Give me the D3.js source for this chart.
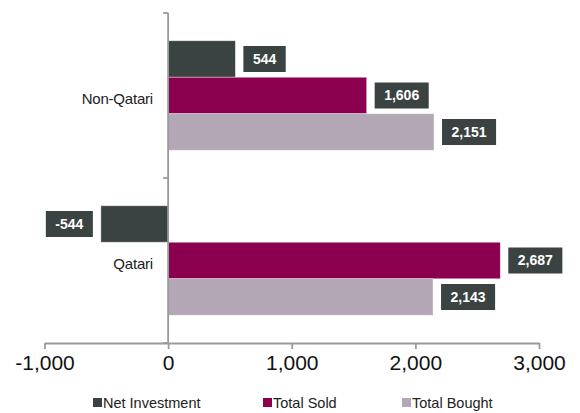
<!DOCTYPE html>
<html>
<head>
<meta charset="utf-8">
<script src="https://cdn.jsdelivr.net/npm/d3@7"></script>
<style>
  body { margin: 0; background: #fff; }
  svg { font-family: "Liberation Sans", Arial, sans-serif; display: block; }
</style>
</head>
<body>
<div id="chart"></div>
<script>
// chart data
const categories = ["Non-Qatari", "Qatari"];
const seriesNames = ["Net Investment", "Total Sold", "Total Bought"];
const netInvestment = [544, -544];
const totalSold = [1606, 2687];
const totalBought = [2151, 2143];
const xTicks = [-1000, 0, 1000, 2000, 3000];
const xTickLabels = ["-1,000", "0", "1,000", "2,000", "3,000"];

const colors = ["#3a4341", "#8a004f", "#b3a6b5"];

const width = 580, height = 413;
const svg = d3.select("#chart").append("svg")
    .attr("width", width)
    .attr("height", height);

const x = d3.scaleLinear().domain([-1000, 3000]).range([44.5, 539]);
const y0 = d3.scaleBand().domain(categories).range([13, 343]).padding(0);
const y1 = d3.scaleBand().domain(seriesNames).range([0, y0.bandwidth()])
    .paddingInner(0).paddingOuter(0.76);

const rows = categories.map((c, i) => ({
    cat: c,
    values: [netInvestment[i], totalSold[i], totalBought[i]]
}));

const fmt = v => d3.format(",")(v).replace("\u2212", "-");

// bars
const group = svg.selectAll(".cat")
    .data(rows)
    .enter().append("g")
    .attr("class", "cat")
    .attr("transform", d => `translate(0,${y0(d.cat)})`);

group.selectAll("rect.bar")
    .data(d => d.values.map((v, j) => ({ v, s: seriesNames[j], j })))
    .enter().append("rect")
    .attr("class", "bar")
    .attr("x", d => x(Math.min(0, d.v)))
    .attr("y", d => y1(d.s))
    .attr("width", d => Math.abs(x(d.v) - x(0)))
    .attr("height", y1.bandwidth())
    .attr("fill", d => colors[d.j])
    .attr("stroke", "#fff")
    .attr("stroke-opacity", 0.5)
    .attr("stroke-width", 0.8);

// value labels in dark boxes
group.each(function(d) {
    const g = d3.select(this);
    d.values.forEach((v, j) => {
        const s = seriesNames[j];
        const cy = y1(s) + y1.bandwidth() / 2;
        const lg = g.append("g");
        const rect = lg.append("rect").attr("fill", "#3a4341");
        const t = lg.append("text")
            .attr("fill", "#fff")
            .attr("font-weight", "bold")
            .attr("font-size", 14)
            .attr("text-anchor", "middle")
            .attr("dy", "0.35em")
            .text(fmt(v));
        const tw = t.node().getComputedTextLength();
        const bw = tw + 19, bh = 26;
        const bx = v >= 0 ? x(v) + 8 : x(v) - 8 - bw;
        rect.attr("x", bx).attr("y", cy - bh / 2).attr("width", bw).attr("height", bh);
        t.attr("x", bx + bw / 2).attr("y", cy);
    });
});

// category labels
svg.selectAll(".cat-label")
    .data(categories)
    .enter().append("text")
    .attr("class", "cat-label")
    .attr("x", 153)
    .attr("y", d => y0(d) + y0.bandwidth() / 2 + 3)
    .attr("dy", "0.35em")
    .attr("text-anchor", "end")
    .attr("font-size", 15)
    .attr("letter-spacing", -0.2)
    .attr("fill", "#222")
    .text(d => d);

// y axis line with ticks at category boundaries
const axisColor = "#9a9a9a";
svg.append("line")
    .attr("x1", x(0)).attr("x2", x(0))
    .attr("y1", y0.range()[0]).attr("y2", y0.range()[1])
    .attr("stroke", axisColor).attr("stroke-width", 1.8);

const bounds = categories.map(c => y0(c)).concat([y0(categories[categories.length - 1]) + y0.bandwidth()]);
svg.selectAll(".ytick")
    .data(bounds)
    .enter().append("line")
    .attr("x1", x(0) - 5).attr("x2", x(0))
    .attr("y1", d => d).attr("y2", d => d)
    .attr("stroke", axisColor).attr("stroke-width", 1.8);

// x axis
const xAxis = svg.append("g")
    .attr("transform", `translate(0,${y0.range()[1]})`)
    .call(d3.axisBottom(x)
        .tickValues(xTicks)
        .tickSize(6)
        .tickSizeOuter(0)
        .tickPadding(6)
        .tickFormat((d, i) => xTickLabels[i]));
xAxis.select(".domain").attr("stroke", axisColor).attr("stroke-width", 1.8);
xAxis.selectAll(".tick line").attr("stroke", axisColor).attr("stroke-width", 1.8);
xAxis.selectAll(".tick text")
    .attr("font-size", 21)
    .attr("font-family", "Liberation Sans, Arial, sans-serif")
    .attr("fill", "#111");

// legend
const legendX = [93, 263, 402];
const legend = svg.selectAll(".legend")
    .data(seriesNames)
    .enter().append("g")
    .attr("class", "legend")
    .attr("transform", (d, i) => `translate(${legendX[i]},403)`);

legend.append("rect")
    .attr("x", 0).attr("y", -5)
    .attr("width", 9).attr("height", 9)
    .attr("fill", (d, i) => colors[i]);

legend.append("text")
    .attr("x", 10)
    .attr("y", 0)
    .attr("dy", "0.35em")
    .attr("font-size", 14.5)
    .attr("fill", "#222")
    .text(d => d);
</script>
</body>
</html>
